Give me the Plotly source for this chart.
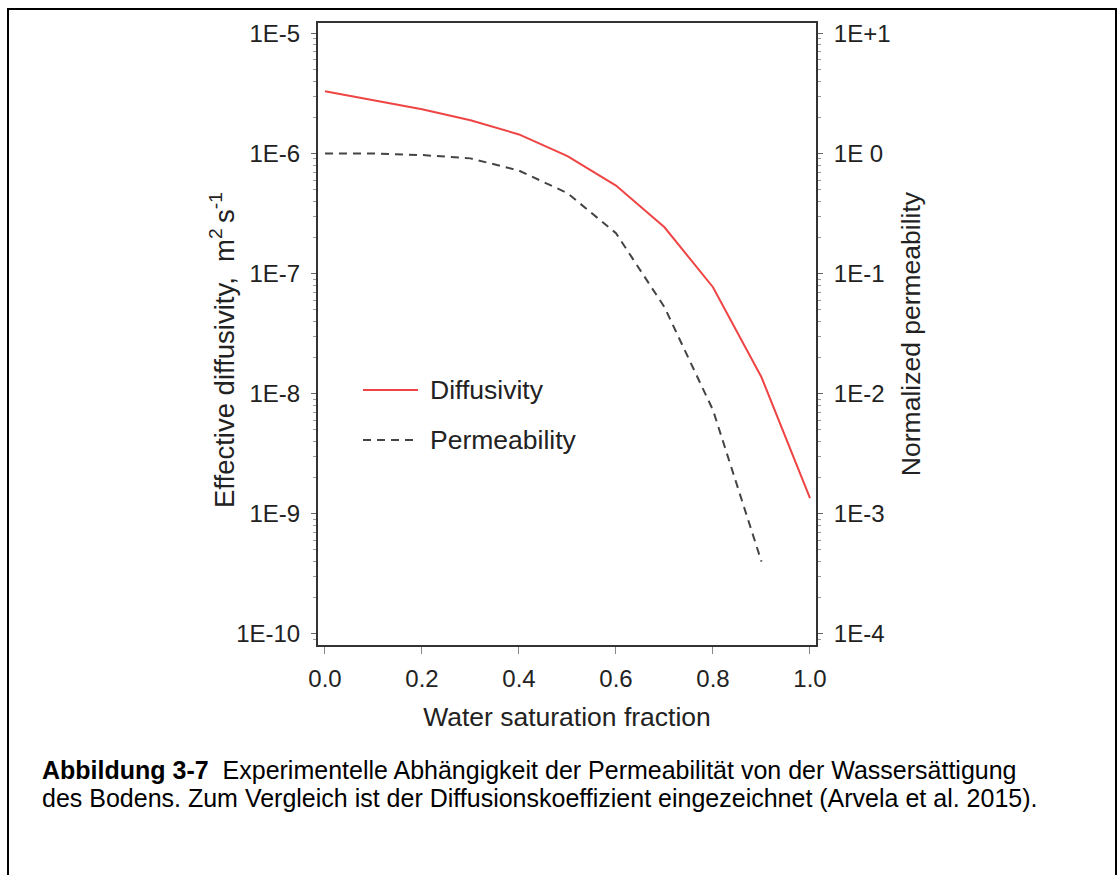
import plotly.graph_objects as go

# Water saturation fraction (x) for the two measured series
saturation = [0.0, 0.1, 0.2, 0.3, 0.4, 0.5, 0.6, 0.7, 0.8, 0.9, 1.0]
diffusivity = [3.3e-6, 2.77e-6, 2.33e-6, 1.89e-6, 1.44e-6, 9.5e-7, 5.4e-7,
               2.43e-7, 7.7e-8, 1.37e-8, 1.35e-9]          # m^2 s^-1
perm_saturation = [0.0, 0.1, 0.2, 0.3, 0.4, 0.5, 0.6, 0.7, 0.8, 0.9]
permeability = [1.0, 0.998, 0.97, 0.91, 0.72, 0.467, 0.217, 0.0525,
                0.0073, 4.0e-4]                               # normalized

x_ticks = [0.0, 0.2, 0.4, 0.6, 0.8, 1.0]
x_ticklabels = ["0.0", "0.2", "0.4", "0.6", "0.8", "1.0"]
left_ticks = [1e-5, 1e-6, 1e-7, 1e-8, 1e-9, 1e-10]
left_ticklabels = ["1E-5", "1E-6", "1E-7", "1E-8", "1E-9", "1E-10"]
right_ticks = [1e1, 1e0, 1e-1, 1e-2, 1e-3, 1e-4]
right_ticklabels = ["1E+1", "1E 0", "1E-1", "1E-2", "1E-3", "1E-4"]

FONT = "Liberation Sans, Arial, sans-serif"
AXIS = "#333333"
RED = "#ee4444"
DASH = "#444444"
TITLE_SIZE = 26.5

# the right axis spans the same decades shifted by a factor 1e6
LEFT_RANGE = [-10.092, -4.914]
RIGHT_RANGE = [LEFT_RANGE[0] + 6, LEFT_RANGE[1] + 6]


def minor_vals(lo_exp, hi_exp):
    vals = []
    for e in range(lo_exp, hi_exp + 1):
        for k in range(2, 10):
            vals.append(k * 10.0 ** e)
    return vals


fig = go.Figure()
fig.add_trace(go.Scatter(
    x=saturation, y=diffusivity, mode="lines", name="Diffusivity",
    line=dict(color=RED, width=2), yaxis="y", showlegend=False))
fig.add_trace(go.Scatter(
    x=perm_saturation, y=permeability, mode="lines", name="Permeability",
    line=dict(color=DASH, width=2, dash="8px,6px"), yaxis="y2",
    showlegend=False))

tickfont = dict(family=FONT, size=24, color="#222222")
titlefont = dict(family=FONT, size=TITLE_SIZE, color="#222222")

fig.update_layout(
    width=1118, height=875,
    margin=dict(l=318, r=302, t=23, b=230),
    paper_bgcolor="white", plot_bgcolor="white",
    font=dict(family=FONT, color="#222222"),
    xaxis=dict(
        range=[-0.0144, 1.0124], tickvals=x_ticks, ticktext=x_ticklabels,
        ticks="outside", ticklen=7, tickwidth=1, tickcolor="#888888",
        showline=True, linecolor=AXIS, linewidth=2, mirror=True,
        showgrid=False, zeroline=False, tickfont=tickfont,
        ticklabelstandoff=4,
        title=dict(text="Water saturation fraction", font=titlefont,
                   standoff=17),
    ),
    yaxis=dict(
        type="log", range=LEFT_RANGE, tickvals=left_ticks,
        ticktext=left_ticklabels, ticks="outside", ticklen=5,
        tickwidth=1, tickcolor="#666666",
        minor=dict(tickvals=minor_vals(-11, -5), ticks="outside",
                   ticklen=3, tickcolor="#999999", showgrid=False),
        showline=True, linecolor=AXIS, linewidth=2, mirror=False,
        showgrid=False, zeroline=False, tickfont=tickfont,
        ticklabelstandoff=6,
    ),
    yaxis2=dict(
        type="log", range=RIGHT_RANGE, overlaying="y", side="right",
        tickvals=right_ticks, ticktext=right_ticklabels,
        ticks="outside", ticklen=5, tickwidth=1, tickcolor="#666666",
        minor=dict(tickvals=minor_vals(-5, 1), ticks="outside",
                   ticklen=3, tickcolor="#999999", showgrid=False),
        showline=True, linecolor=AXIS, linewidth=2,
        showgrid=False, zeroline=False, tickfont=tickfont,
        ticklabelstandoff=6,
        title=dict(text="Normalized permeability", font=titlefont,
                   standoff=12),
    ),
)

# left axis title, placed as a rotated label beside the tick labels
fig.add_annotation(
    text="Effective diffusivity,  m<sup>2 </sup>s<sup>-1</sup>",
    xref="paper", yref="paper", x=(222 - 318) / 498, y=(645 - 350) / 622,
    xanchor="center", yanchor="middle", textangle=-90, showarrow=False,
    font=dict(family=FONT, size=27.5, color="#222222"))

# legend keys inside the plot area
fig.add_shape(type="line", xref="paper", yref="paper",
              x0=(363 - 318) / 498, x1=(418 - 318) / 498,
              y0=(645 - 390) / 622, y1=(645 - 390) / 622,
              line=dict(color=RED, width=2))
fig.add_shape(type="line", xref="paper", yref="paper",
              x0=(363 - 318) / 498, x1=(418 - 318) / 498,
              y0=(645 - 440) / 622, y1=(645 - 440) / 622,
              line=dict(color=DASH, width=2, dash="8px,6px"))
for label, ypx in (("Diffusivity", 390), ("Permeability", 440)):
    fig.add_annotation(text=label, xref="paper", yref="paper",
                       x=(428 - 318) / 498, y=(645 - ypx) / 622,
                       xanchor="left", yanchor="middle", showarrow=False,
                       font=titlefont)

# outer frame around figure and caption
fig.add_shape(type="rect", xref="paper", yref="paper",
              x0=(8 - 318) / 498, x1=(1116 - 318) / 498,
              y0=(645 - 900) / 622, y1=(645 - 9) / 622,
              line=dict(color="black", width=2), fillcolor="rgba(0,0,0,0)",
              layer="below")

caption_lines = [
    "<b>Abbildung 3-7</b>\u00a0 Experimentelle Abhängigkeit der Permeabilität "
    "von der Wassersättigung",
    "des Bodens. Zum Vergleich ist der Diffusionskoeffizient eingezeichnet "
    "(Arvela et al. 2015).",
]
for line, ypx in zip(caption_lines, (770, 798)):
    fig.add_annotation(text=line, xref="paper", yref="paper",
                       x=(40 - 318) / 498, y=(645 - ypx) / 622,
                       xanchor="left", yanchor="middle", showarrow=False,
                       font=dict(family=FONT, size=25, color="black"))

fig.write_html("out.html")
